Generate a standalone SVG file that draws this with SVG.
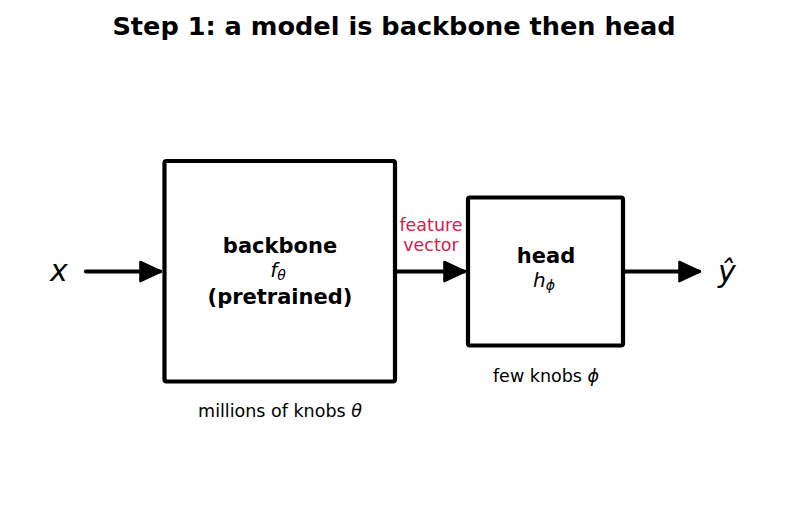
<svg xmlns="http://www.w3.org/2000/svg" width="787" height="512" viewBox="0 0 787 512">
<defs>
<marker id="ah" viewBox="0 0 10 10" refX="9" refY="5" markerWidth="5.5" markerHeight="5.5" markerUnits="strokeWidth" orient="auto">
<path d="M0.5,0.8 L9.5,5 L0.5,9.2 Z" fill="#000" stroke="#000" stroke-width="1" stroke-linejoin="round"/>
</marker>
<style>
text{font-family:"DejaVu Sans","Liberation Sans",sans-serif;text-anchor:middle;fill:#000}
.box{fill:#fff;stroke:#000;stroke-width:4.2;stroke-linejoin:round}
.edge{stroke:#000;stroke-width:4.2;fill:none;marker-end:url(#ah);stroke-linecap:round}
.b{font-weight:bold;font-size:21px}
.m{font-style:italic;font-size:20px}
.s{font-size:17.5px}
.red{fill:#d6204c;font-size:17.5px}
</style>
</defs>
<rect width="787" height="512" fill="#fff"/>
<text x="394" y="35" style="font-weight:bold;font-size:25.6px">Step 1: a model is backbone then head</text>
<g id="connectors">
<line class="edge" x1="86" y1="271.5" x2="160" y2="271.5"/>
<line class="edge" x1="397" y1="271.5" x2="464" y2="271.5"/>
<line class="edge" x1="625" y1="271.5" x2="699" y2="271.5"/>
<text class="red" x="431" y="231">feature</text>
<text class="red" x="431" y="251">vector</text>
</g>
<g id="input"><text x="59" y="281" style="font-style:italic;font-size:30px">x</text></g>
<g id="backbone">
<rect class="box" x="164.5" y="161" width="230.5" height="220.5" rx="2"/>
<text class="b" x="280" y="253">backbone</text>
<text class="m" x="278" y="277">f<tspan font-size="14" dy="3">θ</tspan></text>
<text class="b" x="280" y="304">(pretrained)</text>
<text class="s" x="280" y="417">millions of knobs <tspan font-style="italic">θ</tspan></text>
</g>
<g id="head">
<rect class="box" x="468" y="197.5" width="155" height="148" rx="2"/>
<text class="b" x="546" y="263">head</text>
<text class="m" x="544" y="287">h<tspan font-size="14" dy="3">ϕ</tspan></text>
<text class="s" x="546" y="382">few knobs <tspan font-style="italic">ϕ</tspan></text>
</g>
<g id="output"><text x="727" y="282" style="font-style:italic;font-size:30px">ŷ</text></g>
</svg>
